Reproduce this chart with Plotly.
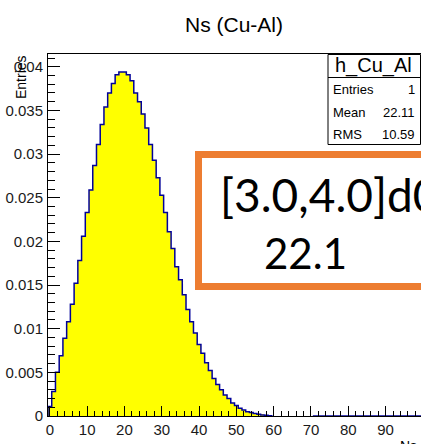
import plotly.graph_objects as go

# ---- data ----
bin_centers = list(range(0, 100))
bin_vals = [
    0.0011, 0.0028, 0.0050, 0.0069, 0.0089, 0.0108, 0.0128, 0.0152, 0.0178, 0.0206,
    0.0233, 0.0259, 0.0287, 0.0311, 0.0334, 0.0354, 0.0370, 0.0381, 0.0391, 0.0394,
    0.0394, 0.0391, 0.0384, 0.0370, 0.0360, 0.0346, 0.0330, 0.0311, 0.0293, 0.0273,
    0.0253, 0.0233, 0.0211, 0.0192, 0.0171, 0.0156, 0.0139, 0.0122, 0.0108, 0.0095,
    0.0082, 0.0072, 0.0061, 0.0052, 0.0043, 0.0036, 0.0030, 0.0024, 0.0020, 0.0015,
    0.0012, 0.0009, 0.0007, 0.0005, 0.0004, 0.0003, 0.0002, 0.00012, 0.00008, 0.00004,
] + [0.0] * 40
empty_bins = list(range(60, 71))  # bins with no outline drawn

y_ticks = [0, 0.005, 0.01, 0.015, 0.02, 0.025, 0.03, 0.035, 0.04]
y_tick_text = ["0", "0.005", "0.01", "0.015", "0.02", "0.025", "0.03", "0.035", "0.04"]
x_ticks = [0, 10, 20, 30, 40, 50, 60, 70, 80, 90]
x_tick_text = ["0", "10", "20", "30", "40", "50", "60", "70", "80", "90"]

stats_name = "h_Cu_Al"
stats_rows = [("Entries", "1"), ("Mean", "22.11"), ("RMS", "10.59")]
note_lines = ["[3.0,4.0]d0", "22.1"]

# ---- geometry helpers (pixels -> paper) ----
W, H = 421, 444
ML, MR, MT, MB = 48, 0, 54, 28
PW, PH = W - ML - MR, H - MT - MB
def px(x):
    return (x - ML) / PW
def py(y):
    return (H - MB - y) / PH

# ---- outline (step) ----
ox, oy = [bin_centers[0] - 0.5], [0]
for b, v in zip(bin_centers, bin_vals):
    lo = b - 0.5
    if b in empty_bins:
        if oy[-1] is not None:
            ox.append(lo); oy.append(0)
            ox.append(None); oy.append(None)
        continue
    if oy[-1] is None:
        ox.append(lo); oy.append(0)
    ox.append(lo); oy.append(v)
ox.append(bin_centers[-1] + 0.5); oy.append(bin_vals[-1])

fig = go.Figure()
fig.add_trace(go.Bar(
    x=bin_centers, y=bin_vals, width=1,
    marker=dict(color="#FFFF00", line=dict(width=0)),
    hoverinfo="skip", showlegend=False,
))
fig.add_trace(go.Scatter(
    x=ox, y=oy, mode="lines", line=dict(color="#000099", width=1.5, shape="hv"),
    connectgaps=False, hoverinfo="skip", showlegend=False,
))

axis_font = dict(family="Liberation Sans, Arial, sans-serif", size=15, color="#1a1a1a")
fig.update_xaxes(
    range=[-0.5, 99.5], showgrid=False, zeroline=False,
    showline=True, linecolor="black", linewidth=1, mirror=True,
    ticks="inside", ticklen=10, tickcolor="black", tickwidth=1,
    tickvals=x_ticks, ticktext=x_tick_text, tickfont=axis_font,
    minor=dict(ticks="inside", dtick=2, tick0=0, ticklen=5, tickcolor="black", tickwidth=1, showgrid=False),
)
fig.update_yaxes(
    range=[0, PH / 8730.0], showgrid=False, zeroline=False,
    showline=True, linecolor="black", linewidth=1, mirror=True,
    ticks="inside", ticklen=12, tickcolor="black", tickwidth=1,
    tickvals=y_ticks, ticktext=y_tick_text, tickfont=axis_font, ticklabelstandoff=1,
    minor=dict(ticks="inside", dtick=0.001, ticklen=7, tickcolor="black", tickwidth=1, showgrid=False),
)

shapes = []
annotations = []
# title & axis titles
annotations.append(dict(text="Ns (Cu-Al)", x=px(234), y=py(24), xref="paper", yref="paper",
                        showarrow=False, xanchor="center", yanchor="middle",
                        font=dict(family="Liberation Sans, Arial, sans-serif", size=21, color="black")))
annotations.append(dict(text="Entries", x=px(21), y=py(53), xref="paper", yref="paper",
                        showarrow=False, xanchor="center", yanchor="top", textangle=-90,
                        font=dict(family="Liberation Sans, Arial, sans-serif", size=14, color="black")))
annotations.append(dict(text="Ns", x=px(419), y=py(436), xref="paper", yref="paper",
                        showarrow=False, xanchor="right", yanchor="top",
                        font=dict(family="Liberation Sans, Arial, sans-serif", size=14, color="black")))

# stats box
shapes.append(dict(type="rect", xref="paper", yref="paper", x0=px(328), x1=px(420.5), y0=py(54.5), y1=py(144.5),
                   line=dict(color="black", width=1), fillcolor="white", layer="above"))
shapes.append(dict(type="line", xref="paper", yref="paper", x0=px(328), x1=px(420.5), y0=py(77.5), y1=py(77.5),
                   line=dict(color="black", width=1), layer="above"))
annotations.append(dict(text=stats_name, x=px(373), y=py(65), xref="paper", yref="paper",
                        showarrow=False, xanchor="center", yanchor="middle",
                        font=dict(family="Liberation Sans, Arial, sans-serif", size=20, color="black")))
row_y = [89, 112, 134]
for (lab, val), yy in zip(stats_rows, row_y):
    annotations.append(dict(text=lab, x=px(331), y=py(yy), xref="paper", yref="paper",
                            showarrow=False, xanchor="left", yanchor="middle",
                            font=dict(family="Liberation Sans, Arial, sans-serif", size=13, color="black")))
    annotations.append(dict(text=val, x=px(416.5), y=py(yy), xref="paper", yref="paper",
                            showarrow=False, xanchor="right", yanchor="middle",
                            font=dict(family="Liberation Sans, Arial, sans-serif", size=13, color="black")))

# orange note box
shapes.append(dict(type="rect", xref="paper", yref="paper", x0=px(198.5), x1=px(440), y0=py(154.5), y1=py(286.5),
                   line=dict(color="#ED7D31", width=7), fillcolor="white", layer="above"))
annotations.append(dict(text=note_lines[0], x=px(218), y=py(194), xref="paper", yref="paper",
                        showarrow=False, xanchor="left", yanchor="middle",
                        font=dict(family="Lato, sans-serif", size=46, color="black")))
annotations.append(dict(text=note_lines[1], x=px(262), y=py(253), xref="paper", yref="paper",
                        showarrow=False, xanchor="left", yanchor="middle",
                        font=dict(family="Lato, sans-serif", size=42, color="black")))

fig.update_layout(
    width=W, height=H, margin=dict(l=ML, r=MR, t=MT, b=MB),
    paper_bgcolor="white", plot_bgcolor="white", bargap=0,
    shapes=shapes, annotations=annotations, showlegend=False,
)
fig.write_html("out.html")
